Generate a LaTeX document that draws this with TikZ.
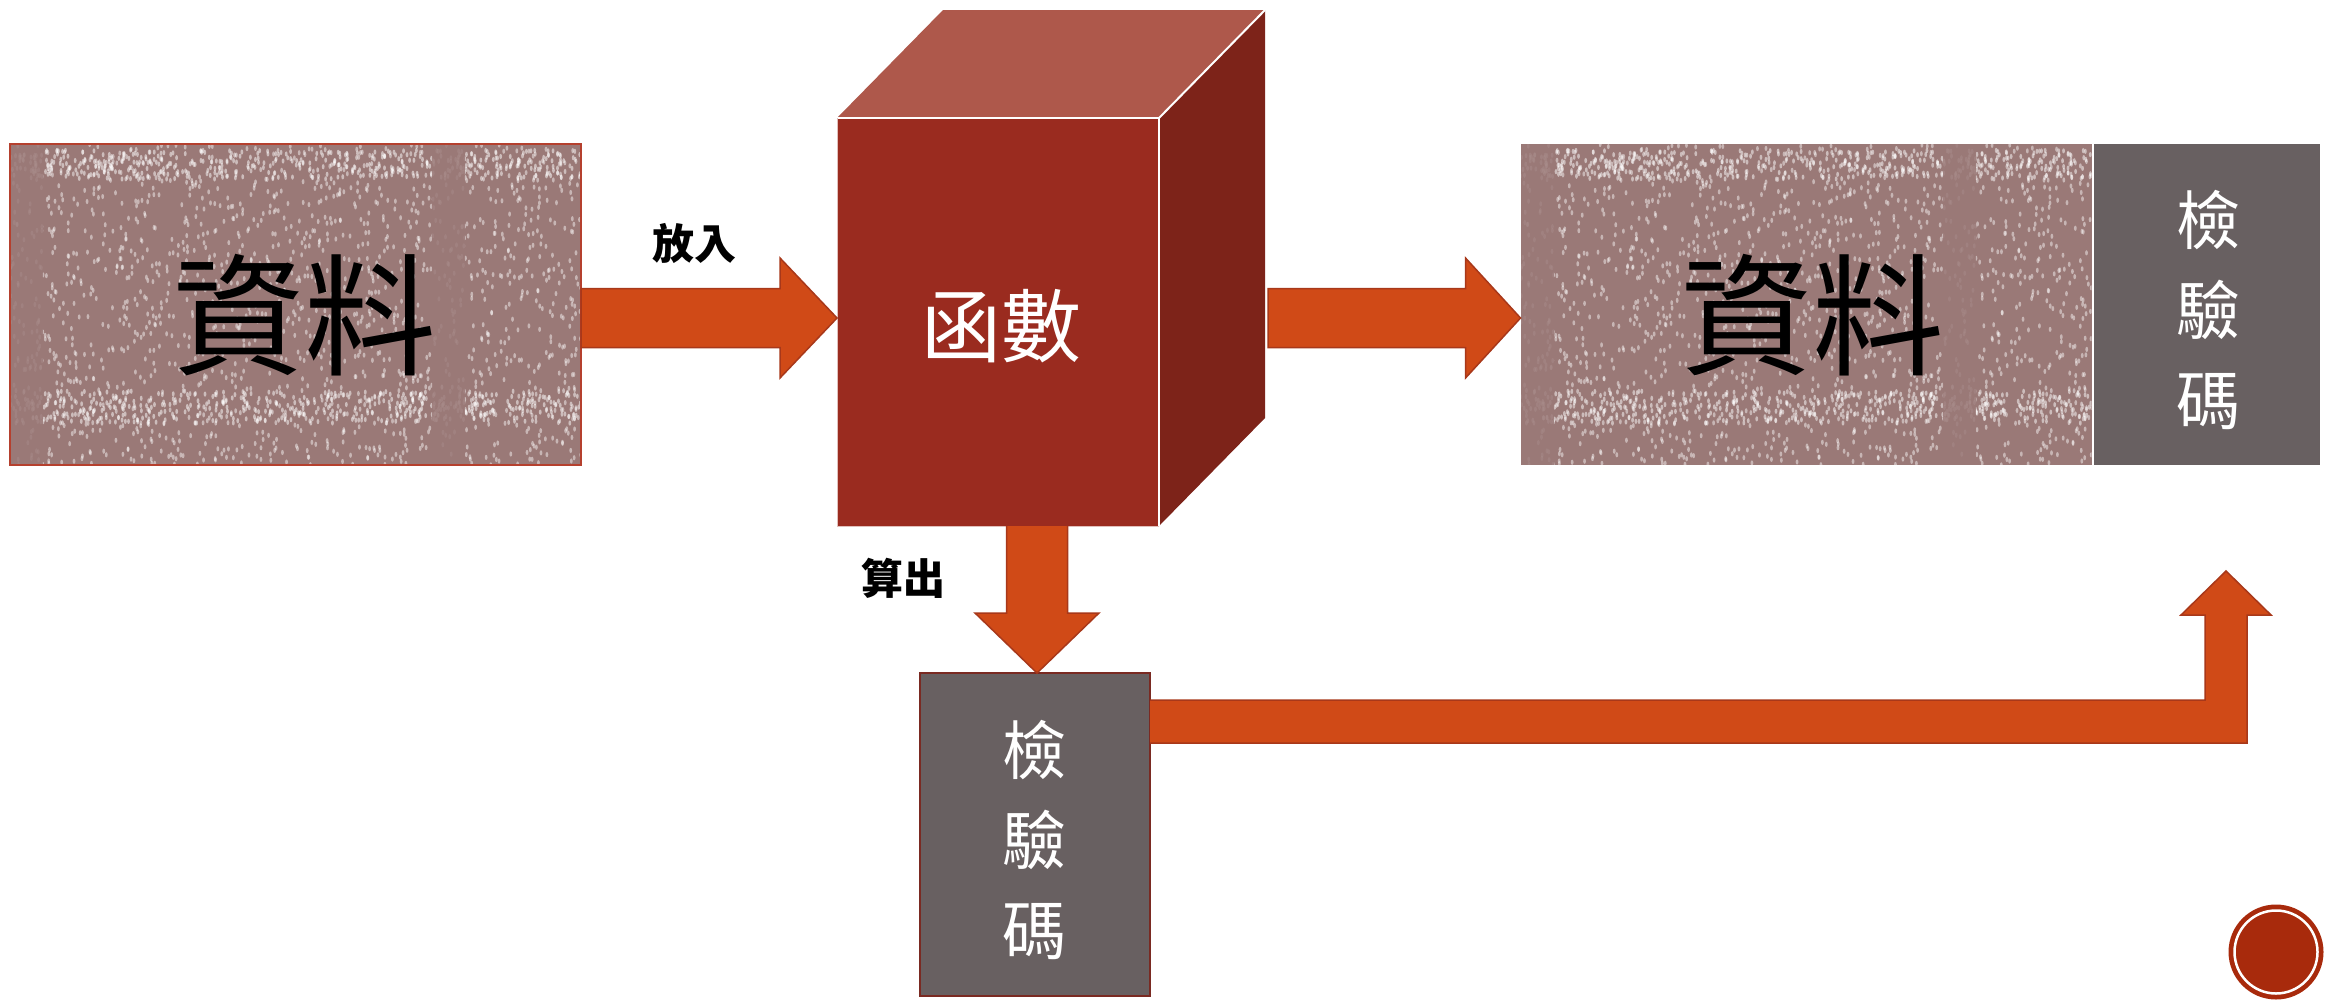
\documentclass[tikz,border=0pt]{standalone}
\usepackage{fontspec}
\newfontfamily\cjk{Noto Sans CJK TC}
\usetikzlibrary{calc}
\definecolor{dataC}{HTML}{9A7977}
\definecolor{codeC}{HTML}{686061}
\definecolor{frontC}{HTML}{9A2B1F}
\definecolor{topC}{HTML}{AE584B}
\definecolor{sideC}{HTML}{7D2319}
\definecolor{arrowC}{HTML}{D04A17}
\definecolor{arrowE}{HTML}{A8381A}
\definecolor{badgeC}{HTML}{A82A0C}
\definecolor{boxE}{HTML}{B5402E}
\definecolor{codeE}{HTML}{7A2A22}
\newcommand\mytexture[1]{%
  \begin{scope}
    \clip (#1.north west) rectangle (#1.south east);
    \pgfmathsetseed{42}
    \foreach \i in {1,...,1700}{
      \pgfmathsetmacro\myrx{rnd}\pgfmathsetmacro\myry{rnd}
      \fill[white,opacity=.45] ($(#1.north west)+(\myrx*571,\myry*321)$) ellipse (1.4 and 2.6);
    }
    \foreach \i in {1,...,550}{
      \pgfmathsetmacro\myrx{rnd}\pgfmathsetmacro\myry{0.02+0.09*rnd}
      \fill[white,opacity=.5] ($(#1.north west)+(\myrx*571,\myry*321)$) ellipse (1.4 and 2.6);
      \pgfmathsetmacro\myrx{rnd}\pgfmathsetmacro\myry{0.77+0.10*rnd}
      \fill[white,opacity=.5] ($(#1.north west)+(\myrx*571,\myry*321)$) ellipse (1.4 and 2.6);
    }
    \fill[dataC,opacity=.85] ($(#1.north west)+(0,0)$) rectangle ($(#1.north west)+(33,321)$);
    \fill[dataC,opacity=.85] ($(#1.north west)+(422,0)$) rectangle ($(#1.north west)+(455,321)$);
  \end{scope}}
\begin{document}
\begin{tikzpicture}[x=1pt,y=-1pt,
  databox/.style={rectangle, fill=dataC, minimum width=571pt, minimum height=321pt, inner sep=0pt, outer sep=0pt},
  codebox/.style={rectangle, fill=codeC, inner sep=0pt, outer sep=0pt},
  blk/.style={fill=arrowC, draw=arrowE, line width=1.5pt, line join=miter},
  bigtxt/.style={font=\cjk\fontsize{132}{132}\selectfont, text=black, inner sep=0pt},
  functxt/.style={font=\cjk\fontsize{80}{80}\selectfont, text=white, inner sep=0pt},
  codetxt/.style={font=\cjk\fontsize{64}{90}\selectfont, text=white, inner sep=0pt, align=center},
  lbltxt/.style={font=\cjk\bfseries\fontsize{42}{42}\selectfont, text=black, inner sep=0pt}
]
\useasboundingbox (0,0) rectangle (2331,1002);
\fill[white] (0,0) rectangle (2331,1002);

% boxes
\node[databox] (data1) at (295.5,304.5) {};
\mytexture{data1}
\draw[boxE, line width=1.5pt] (data1.north west) rectangle (data1.south east);
\node[databox] (data2) at (1806,304.5) {};
\mytexture{data2}
\node[codebox, minimum width=226pt, minimum height=321pt] (code2) at (2207,304.5) {};
\node[codebox, draw=codeE, line width=2pt, minimum width=230pt, minimum height=323pt] (code1) at (1035,834.5) {};

% cube
\node[rectangle, fill=frontC, inner sep=0pt, outer sep=0pt, minimum width=322pt, minimum height=408pt] (func) at (998,322) {};
\coordinate (cubeback) at ($(func.north east)+(106,-108)$);
\fill[topC] (func.north west) -- (func.north east) -- (cubeback) -- ($(func.north west)+(106,-108)$) -- cycle;
\fill[sideC] (func.north east) -- (cubeback) -- ($(func.south east)+(106,-108)$) -- (func.south east) -- cycle;
\draw[white, line width=2pt] (func.north west) -- (func.north east) -- (func.south east);
\draw[white, line width=2pt] (func.north east) -- (cubeback);
\draw[white!70!frontC, line width=1pt] (func.north west) -- (func.south west) -- (func.south east);

% texts
\node[bigtxt] (t1) at (304,315) {資料};
\node[bigtxt] (t2) at (1812,315) {資料};
\node[functxt] (tf) at (1001,326) {函數};
\node[codetxt] (tc2) at (2208,310) {檢\\驗\\碼};
\node[codetxt] (tc1) at (1034,840) {檢\\驗\\碼};
\node[lbltxt] (put) at (694,243) {放入};
\node[lbltxt] (calc) at (903,578) {算出};

% arrow 1
\coordinate (a1s) at ($(data1.east)+(0,13.5)$);
\coordinate (a1t) at (a1s -| func.west);
\draw[blk] ($(a1s)+(0,-29.5)$) -- ($(a1t)+(-57,-29.5)$) -- ($(a1t)+(-57,-60)$) -- (a1t)
  -- ($(a1t)+(-57,60)$) -- ($(a1t)+(-57,29.5)$) -- ($(a1s)+(0,29.5)$) -- cycle;

% arrow 2
\coordinate (a2s) at ($(a1s -| cubeback)+(3,0)$);
\coordinate (a2t) at (a1s -| data2.west);
\draw[blk] ($(a2s)+(0,-29.5)$) -- ($(a2t)+(-55,-29.5)$) -- ($(a2t)+(-55,-60)$) -- (a2t)
  -- ($(a2t)+(-55,60)$) -- ($(a2t)+(-55,29.5)$) -- ($(a2s)+(0,29.5)$) -- cycle;

% arrow 3 (down)
\coordinate (a3s) at ($(func.south -| code1.north)+(2,0)$);
\coordinate (a3t) at ($(code1.north)+(2,0)$);
\draw[blk] ($(a3s)+(-30.5,0)$) -- ($(a3t)+(-30.5,-60)$) -- ($(a3t)+(-62,-60)$) -- (a3t)
  -- ($(a3t)+(62,-60)$) -- ($(a3t)+(30.5,-60)$) -- ($(a3s)+(30.5,0)$);

% arrow 4 (bent up)
\coordinate (a4s) at ($(code1.east)+(0,-113)$);
\coordinate (a4t) at ($(code2.south)+(19,106)$);
\draw[blk] ($(a4s)+(0,-21.5)$) -- ($(a4s -| a4t)+(-21,-21.5)$) -- ($(a4t)+(-21,44)$) -- ($(a4t)+(-45,44)$) -- (a4t)
  -- ($(a4t)+(45,44)$) -- ($(a4t)+(21,44)$) -- ($(a4s -| a4t)+(21,21.5)$) -- ($(a4s)+(0,21.5)$);

% corner badge
\node[circle, fill=badgeC, minimum size=95pt, inner sep=0pt] (badge) at (2276,952) {};
\draw[white, line width=2.5pt] (badge.center) circle (41.5);
\end{tikzpicture}
\end{document}
